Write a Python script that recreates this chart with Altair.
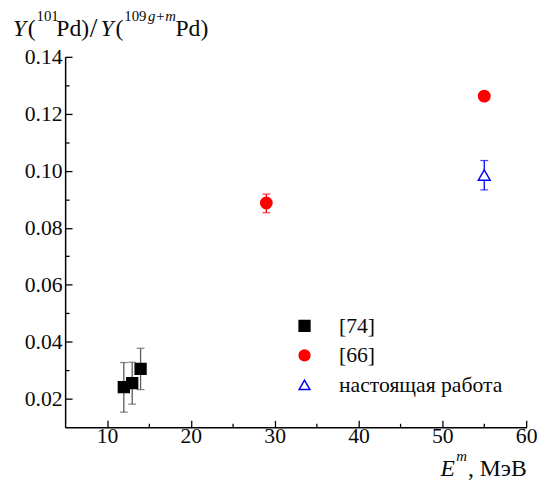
import altair as alt
import pandas as pd

FONT = "Liberation Serif"
INK = "#0a0a0a"

series_names = ["[74]", "[66]", "настоящая работа"]
series_colors = ["#000000", "#ff0000", "#0000ff"]
series_err_colors = ["#5a5a5a", "#ff0000", "#0000ff"]
series_fills = ["#000000", "#ff0000", "#ffffff"]
series_shapes = ["square", "circle", "triangle-up"]

ref74_energy = [12, 13, 14]
ref74_ratio = [0.0241, 0.0255, 0.0305]
ref74_low = [0.0153, 0.0181, 0.0232]
ref74_high = [0.0327, 0.0328, 0.0377]

ref66_energy = [29, 55]
ref66_ratio = [0.0887, 0.1262]
ref66_low = [0.0853, 0.1262]
ref66_high = [0.0918, 0.1262]

this_energy = [55]
this_ratio = [0.0985]
this_low = [0.0933]
this_high = [0.1036]

x_ticks = [10, 20, 30, 40, 50, 60]
x_minor = [15, 25, 35, 45, 55]
y_ticks = [0.02, 0.04, 0.06, 0.08, 0.10, 0.12, 0.14]
y_minor = [0.03, 0.05, 0.07, 0.09, 0.11, 0.13]

X_MIN, X_MAX = 5, 60
Y_MIN, Y_MAX = 0.01, 0.14

rows = []
for name, es, rs, los, his in [
    (series_names[0], ref74_energy, ref74_ratio, ref74_low, ref74_high),
    (series_names[1], ref66_energy, ref66_ratio, ref66_low, ref66_high),
    (series_names[2], this_energy, this_ratio, this_low, this_high),
]:
    for e, r, lo, hi in zip(es, rs, los, his):
        rows.append({"series": name, "E": e, "Y": r, "lo": lo, "hi": hi})
df = pd.DataFrame(rows)
err_df = df[df["hi"] > df["lo"]].reset_index(drop=True)

W, H = 468, 376
xs = alt.Scale(domain=[X_MIN, X_MAX], nice=False, zero=False)
ys = alt.Scale(domain=[Y_MIN, Y_MAX], nice=False, zero=False)

# inward ticks: negative tick size through an expression; minor ticks shortened with a dash
x_axis = alt.Axis(
    values=sorted(x_ticks + x_minor), format="d",
    labelExpr="datum.value % 10 == 0 ? datum.label : ''",
    ticks=True, tickSize={"expr": "-7"}, tickColor="#000000", tickWidth=1.3,
    tickDash={"condition": {"test": "datum.value % 10 != 0", "value": [4, 30]}, "value": []},
    grid=False, title=None, labelFlush=False, labelOverlap=False,
    labelFont=FONT, labelFontSize=22, labelColor=INK, labelPadding=6,
    domainColor="#000000", domainWidth=1.5)
y_axis = alt.Axis(
    values=sorted(y_ticks + y_minor), format=".2f",
    labelExpr="round(datum.value * 100) % 2 == 0 ? datum.label : ''",
    ticks=True, tickSize={"expr": "-7"}, tickColor="#000000", tickWidth=1.3,
    tickDash={"condition": {"test": "round(datum.value * 100) % 2 != 0", "value": [4, 30]}, "value": []},
    grid=False, title=None, labelFlush=False, labelOverlap=False,
    labelFont=FONT, labelFontSize=22, labelColor=INK, labelPadding=10,
    domainColor="#000000", domainWidth=1.5)


def X(f):
    return alt.X(f, type="quantitative", scale=xs, axis=x_axis)


def Y(f):
    return alt.Y(f, type="quantitative", scale=ys, axis=y_axis)


err_color = alt.Color("series:N", scale=alt.Scale(domain=series_names, range=series_err_colors), legend=None)

err_rules = alt.Chart(err_df).mark_rule(strokeWidth=1.3).encode(
    x=X("E"), y=Y("lo"), y2="hi:Q", color=err_color)
cap_lo = alt.Chart(err_df).mark_tick(orient="horizontal", size=8, thickness=1.3).encode(
    x=X("E"), y=Y("lo"), color=err_color)
cap_hi = alt.Chart(err_df).mark_tick(orient="horizontal", size=8, thickness=1.3).encode(
    x=X("E"), y=Y("hi"), color=err_color)

points = alt.Chart(df).mark_point(opacity=1, strokeWidth=1.5).encode(
    x=X("E"), y=Y("Y"),
    shape=alt.Shape("series:N", scale=alt.Scale(domain=series_names, range=series_shapes), legend=None),
    fill=alt.Fill("series:N", scale=alt.Scale(domain=series_names, range=series_fills), legend=None),
    stroke=alt.Stroke("series:N", scale=alt.Scale(domain=series_names, range=series_colors), legend=None),
    size=alt.Size("series:N", scale=alt.Scale(domain=series_names, range=[121, 144, 150]), legend=None),
)

# legend drawn as marks (pixel layout inside plot area)
legend_layers = []
LEG_X, LEG_Y0, LEG_DY = 243, 273, 30
for i, name in enumerate(series_names):
    legend_layers.append(
        alt.Chart(alt.Data(values=[{"k": i}])).mark_point(
            shape=series_shapes[i], fill=series_fills[i], stroke=series_colors[i],
            filled=False, opacity=1, strokeWidth=1.5, size=120,
        ).encode(x=alt.value(LEG_X), y=alt.value(LEG_Y0 + i * LEG_DY))
    )
    legend_layers.append(
        alt.Chart(alt.Data(values=[{"k": i}])).mark_text(
            align="left", baseline="middle", font=FONT, fontSize=22, color=INK
        ).encode(x=alt.value(LEG_X + 35), y=alt.value(LEG_Y0 + i * LEG_DY), text=alt.value(name))
    )

title_pieces = [
    ("Y", -53, -21, 24, "italic"),
    ("(", -38, -21, 24, "normal"),
    ("101", -29, -36, 15, "normal"),
    ("Pd)", -9, -21, 24, "normal"),
    ("/", 25, -20, 28, "normal"),
    ("Y", 36, -21, 24, "italic"),
    ("(", 51, -21, 24, "normal"),
    ("109", 60, -36, 15, "normal"),
    ("g+m", 84, -36, 15, "italic"),
    ("Pd)", 112, -21, 24, "normal"),
    ("E", 381, 425, 24, "italic"),
    ("m", 397, 410, 15, "italic"),
    (", МэВ", 409, 425, 24, "normal"),
]
text_layers = []
for j, (txt, tx, ty, fs, st) in enumerate(title_pieces):
    text_layers.append(
        alt.Chart(alt.Data(values=[{"t": j}])).mark_text(
            align="left", baseline="alphabetic", font=FONT, fontSize=fs, fontStyle=st, color=INK
        ).encode(x=alt.value(tx), y=alt.value(ty), text=alt.value(txt))
    )

chart = alt.layer(
    err_rules, cap_lo, cap_hi, points, *legend_layers, *text_layers
).properties(
    width=W, height=H,
    padding={"left": 58, "top": 46, "right": 12, "bottom": 50},
    autosize=alt.AutoSizeParams(type="none"),
    background="white",
).configure_view(stroke=None)

chart.save("out.html", embed_options={"renderer": "svg", "actions": False})
